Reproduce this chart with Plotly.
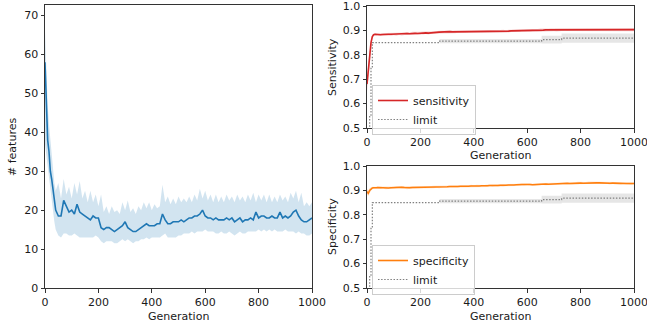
import plotly.graph_objects as go

# ---------------- data ----------------
GEN = [0, 5, 10, 15, 20, 25, 30, 35] + list(range(40, 1001, 10))

FEAT_MEAN = [58, 45, 38, 35, 30, 28, 25, 22,
             20, 18.5, 18.5, 22.5, 21, 19.5, 20, 19, 21.5, 19.5,
             19, 18.5, 18, 17.5, 18.5, 18, 18, 15.5, 15, 15.5,
             15.5, 15, 14.5, 15, 15.5, 16, 17, 15.5, 15, 14.5,
             14.5, 15, 15.5, 16, 16.5, 16, 16, 16, 16.5, 16.5,
             19, 17.5, 16.5, 16.5, 17, 17, 17, 17.5, 17, 17.5,
             18, 18, 18.5, 18.5, 19, 20, 18.5, 18, 18, 17.5,
             18, 17.5, 17.5, 17.5, 18, 17.5, 18, 17, 17.5, 18,
             17, 17.5, 17.5, 18, 17.5, 19.5, 18, 18.5, 18.5, 18,
             18, 18.5, 18, 18, 19.5, 18, 18.5, 18, 18.5, 19.5,
             20, 18.5, 17.5, 17, 17, 17.5, 18]

FEAT_UPPER = [66, 55, 47, 42, 38, 34, 30, 27,
              25, 27, 23, 28, 24, 26, 23, 27, 24, 27.5,
              23, 25, 22, 25, 22, 24, 21, 24, 19.5, 21,
              19, 21, 19.5, 20, 19, 22, 20, 22.5, 19.5, 20.5,
              19, 21, 20, 22, 20.5, 22, 20, 21.5, 20.5, 21,
              26.5, 22, 23.5, 21.5, 23, 21.5, 23.5, 22, 23, 22,
              23.5, 22, 24, 22.5, 25.5, 23, 25, 22.5, 24, 22,
              24, 22, 23.5, 22, 24, 22.5, 23.5, 22, 24, 22.5,
              23.5, 22, 24, 22.5, 24.5, 22, 24, 22.5, 24, 22,
              24, 22, 23.5, 22, 24, 22.5, 23.5, 22, 24.5, 23,
              25, 22, 24.5, 21, 22, 21, 22]

FEAT_LOWER = [37, 34, 31, 28, 25, 22, 19, 17,
              15, 13.5, 13, 14, 14, 13.5, 13.5, 14, 13.5, 13,
              13, 13, 13, 13, 13, 13.5, 13, 12, 11.5, 12,
              12, 12, 11.5, 11.5, 12, 12.5, 12, 12.5, 12, 11.5,
              12, 12, 12.5, 12.5, 13, 12.5, 13, 13, 13, 13,
              13.5, 14, 13, 13, 13, 13, 13.5, 13.5, 14, 14,
              14, 14.5, 14, 14.5, 14.5, 14.5, 15, 14.5, 14.5, 14.5,
              14, 14, 14.5, 14, 14, 14.5, 14, 13.5, 14, 14.5,
              14, 14, 14.5, 14.5, 14.5, 14.5, 15, 14.5, 15, 14.5,
              15, 14.5, 15, 14.5, 14.5, 14.5, 15, 14.5, 14.5, 14.5,
              14, 14.5, 14, 14, 13.5, 13.5, 14]

SENS = [0.68, 0.74, 0.80, 0.85, 0.875, 0.882, 0.884, 0.883,
        0.883, 0.882, 0.883, 0.882, 0.884, 0.884, 0.885, 0.884, 0.886, 0.885,
        0.886, 0.887, 0.886, 0.888, 0.888, 0.887, 0.889, 0.889, 0.890, 0.889,
        0.891, 0.892, 0.892, 0.893, 0.894, 0.893, 0.894, 0.895, 0.894, 0.894,
        0.895, 0.895, 0.894, 0.895, 0.895, 0.896, 0.895, 0.895, 0.896, 0.895,
        0.896, 0.896, 0.895, 0.896, 0.897, 0.896, 0.897, 0.897, 0.896, 0.897,
        0.898, 0.898, 0.899, 0.899, 0.900, 0.900, 0.901, 0.900, 0.901, 0.900,
        0.900, 0.901, 0.901, 0.902, 0.902, 0.902, 0.903, 0.903, 0.904, 0.904,
        0.905, 0.905, 0.904, 0.905, 0.904, 0.904, 0.903, 0.904, 0.903, 0.903,
        0.904, 0.903, 0.903, 0.904, 0.903, 0.903, 0.904, 0.904, 0.903, 0.904,
        0.903, 0.904, 0.903, 0.904, 0.904, 0.903, 0.903]

SENS_SD = [0.03, 0.03, 0.025, 0.015, 0.008, 0.006, 0.005, 0.005,
           0.005, 0.006, 0.005, 0.006, 0.005, 0.006, 0.005, 0.006, 0.005, 0.006,
           0.005, 0.006, 0.005, 0.006, 0.005, 0.006, 0.005, 0.006, 0.005, 0.006,
           0.005, 0.006, 0.005, 0.006, 0.005, 0.006, 0.005, 0.006, 0.005, 0.006,
           0.005, 0.006, 0.005, 0.006, 0.005, 0.006, 0.005, 0.006, 0.005, 0.006,
           0.005, 0.006, 0.005, 0.006, 0.005, 0.006, 0.005, 0.006, 0.005, 0.006,
           0.005, 0.006, 0.005, 0.006, 0.005, 0.006, 0.005, 0.006, 0.005, 0.006,
           0.006, 0.007, 0.006, 0.007, 0.006, 0.007, 0.006, 0.007, 0.006, 0.007,
           0.006, 0.007, 0.006, 0.007, 0.006, 0.007, 0.006, 0.007, 0.006, 0.007,
           0.006, 0.007, 0.006, 0.007, 0.006, 0.007, 0.006, 0.007, 0.006, 0.007,
           0.006, 0.007, 0.006, 0.007, 0.006, 0.007, 0.006]

SPEC = [0.895, 0.888, 0.900, 0.906, 0.910, 0.911, 0.910, 0.911,
        0.912, 0.911, 0.912, 0.910, 0.910, 0.911, 0.912, 0.913, 0.914, 0.913,
        0.912, 0.910, 0.911, 0.912, 0.912, 0.913, 0.913, 0.913, 0.914, 0.913,
        0.914, 0.914, 0.915, 0.914, 0.915, 0.915, 0.915, 0.916, 0.915, 0.916,
        0.916, 0.917, 0.916, 0.917, 0.917, 0.918, 0.917, 0.918, 0.918, 0.919,
        0.918, 0.919, 0.920, 0.919, 0.920, 0.920, 0.921, 0.920, 0.921, 0.922,
        0.921, 0.922, 0.923, 0.922, 0.924, 0.924, 0.925, 0.924, 0.923, 0.924,
        0.925, 0.925, 0.926, 0.926, 0.925, 0.926, 0.927, 0.926, 0.927, 0.928,
        0.928, 0.929, 0.928, 0.929, 0.929, 0.930, 0.930, 0.929, 0.930, 0.931,
        0.932, 0.932, 0.931, 0.931, 0.930, 0.931, 0.930, 0.929, 0.930, 0.929,
        0.929, 0.928, 0.929, 0.928, 0.928, 0.927, 0.928]

SPEC_SD = [0.012, 0.012, 0.010, 0.007, 0.005, 0.004, 0.004, 0.004,
           0.004, 0.005, 0.004, 0.005, 0.004, 0.005, 0.004, 0.005, 0.004, 0.005,
           0.004, 0.005, 0.004, 0.005, 0.004, 0.005, 0.004, 0.005, 0.004, 0.005,
           0.004, 0.005, 0.004, 0.005, 0.004, 0.005, 0.004, 0.005, 0.004, 0.005,
           0.004, 0.005, 0.004, 0.005, 0.004, 0.005, 0.004, 0.005, 0.004, 0.005,
           0.004, 0.005, 0.004, 0.005, 0.004, 0.005, 0.004, 0.005, 0.004, 0.005,
           0.004, 0.005, 0.004, 0.005, 0.004, 0.005, 0.004, 0.005, 0.004, 0.005,
           0.004, 0.005, 0.004, 0.005, 0.004, 0.005, 0.004, 0.005, 0.004, 0.005,
           0.004, 0.005, 0.004, 0.005, 0.004, 0.005, 0.004, 0.005, 0.004, 0.005,
           0.004, 0.005, 0.004, 0.005, 0.004, 0.005, 0.004, 0.005, 0.004, 0.005,
           0.004, 0.005, 0.004, 0.005, 0.004, 0.005, 0.004]

LIMIT_GEN = [0, 5, 10, 15, 20, 272, 654, 729, 1000]
LIMIT_VAL = [0.30, 0.40, 0.55, 0.75, 0.85, 0.856, 0.862, 0.868, 0.868]
LIMIT_SD = [0, 0, 0, 0, 0, 0.009, 0.016, 0.019, 0.019]

X_TICKS = [0, 200, 400, 600, 800, 1000]
FEAT_TICKS = [0, 10, 20, 30, 40, 50, 60, 70]
RATE_TICKS = [0.5, 0.6, 0.7, 0.8, 0.9, 1.0]

# ---------------- styling ----------------
FONT = "DejaVu Sans"
TXT = "#1a1a1a"
BLUE = "#1f77b4"
RED = "#d62728"
ORANGE = "#ff7f0e"
GRAY = "#808080"

fig = go.Figure()

def band(x, lo, hi, color, xa, ya, shape="linear"):
    fig.add_trace(go.Scatter(x=x, y=lo, mode="lines", line=dict(width=0, shape=shape),
                             showlegend=False, hoverinfo="skip", xaxis=xa, yaxis=ya))
    fig.add_trace(go.Scatter(x=x, y=hi, mode="lines", line=dict(width=0, shape=shape),
                             fill="tonexty", fillcolor=color, showlegend=False,
                             hoverinfo="skip", xaxis=xa, yaxis=ya))

# left: features
band(GEN, FEAT_LOWER, FEAT_UPPER, "rgba(31,119,180,0.2)", "x", "y")
fig.add_trace(go.Scatter(x=GEN, y=FEAT_MEAN, mode="lines", line=dict(color=BLUE, width=1.6),
                         showlegend=False, xaxis="x", yaxis="y"))

lim_lo = [v - s for v, s in zip(LIMIT_VAL, LIMIT_SD)]
lim_hi = [v + s for v, s in zip(LIMIT_VAL, LIMIT_SD)]

for (series, sd, color, rgba, name, xa, ya, leg) in [
    (SENS, SENS_SD, RED, "rgba(214,39,40,0.2)", "sensitivity", "x2", "y2", "legend"),
    (SPEC, SPEC_SD, ORANGE, "rgba(255,127,14,0.2)", "specificity", "x3", "y3", "legend2"),
]:
    band(LIMIT_GEN, lim_lo, lim_hi, "rgba(128,128,128,0.2)", xa, ya, shape="hv")
    fig.add_trace(go.Scatter(x=LIMIT_GEN, y=LIMIT_VAL, mode="lines",
                             line=dict(color=GRAY, width=1.2, dash="1.5px,1.6px", shape="hv"),
                             name="limit", legend=leg, xaxis=xa, yaxis=ya))
    lo = [v - s for v, s in zip(series, sd)]
    hi = [v + s for v, s in zip(series, sd)]
    band(GEN, lo, hi, rgba, xa, ya)
    fig.add_trace(go.Scatter(x=GEN, y=series, mode="lines", line=dict(color=color, width=1.6),
                             name=name, legend=leg, xaxis=xa, yaxis=ya))

axis_common = dict(showline=True, mirror=True, linecolor="#333", linewidth=1,
                   ticks="outside", ticklen=3.5, tickwidth=1, tickcolor="#333",
                   showgrid=False, zeroline=False, automargin=False,
                   ticklabeloverflow="allow",
                   tickfont=dict(family=FONT, size=11, color=TXT))

L, R, T, B = 45, 13, 5, 36
W, H = 647, 324
PW, PH = W - L - R, H - T - B

def px(x):
    return (x - L) / PW

def py(y):
    return (H - B - y) / PH

leg_common = dict(xanchor="left", yanchor="top", traceorder="reversed",
                  bgcolor="rgba(255,255,255,0.8)", bordercolor="#cccccc", borderwidth=1,
                  font=dict(family=FONT, size=11, color=TXT), tracegroupgap=0,
                  itemwidth=30)

fig.update_layout(
    width=W, height=H,
    margin=dict(l=L, r=R, t=T, b=B, autoexpand=False),
    paper_bgcolor="white", plot_bgcolor="white",
    font=dict(family=FONT, size=11, color=TXT),
    xaxis=dict(domain=[0, px(312)], range=[0, 1000], tickvals=X_TICKS, anchor="y", **axis_common),
    yaxis=dict(domain=[0, 1], range=[0, 72.7], tickvals=FEAT_TICKS, anchor="x", **axis_common),
    xaxis2=dict(domain=[px(367), 1], range=[0, 1000], tickvals=X_TICKS, anchor="y2", **axis_common),
    yaxis2=dict(domain=[py(128), py(6)], range=[0.5, 1.0], tickvals=RATE_TICKS, tickformat=".1f",
                anchor="x2", **axis_common),
    xaxis3=dict(domain=[px(367), 1], range=[0, 1000], tickvals=X_TICKS, anchor="y3", **axis_common),
    yaxis3=dict(domain=[0, py(166)], range=[0.5, 1.0], tickvals=RATE_TICKS, tickformat=".1f",
                anchor="x3", **axis_common),
    legend=dict(x=px(372), y=py(85), **leg_common),
    legend2=dict(x=px(372), y=py(245), **leg_common),
    showlegend=True,
)

def title(text, x, y, angle=0):
    fig.add_annotation(text=text, x=px(x), y=py(y), xref="paper", yref="paper",
                       showarrow=False, textangle=angle, xanchor="center", yanchor="middle",
                       font=dict(family=FONT, size=11, color=TXT))

title("# features", 12, 147, -90)
title("Generation", 178, 316)
title("Sensitivity", 332, 67, -90)
title("Generation", 500, 155)
title("Specificity", 332, 227, -90)
title("Generation", 500, 316)

fig.write_html("out.html", config={"displayModeBar": False},
               post_script="document.body.style.margin='0';document.body.style.overflow='hidden';")
